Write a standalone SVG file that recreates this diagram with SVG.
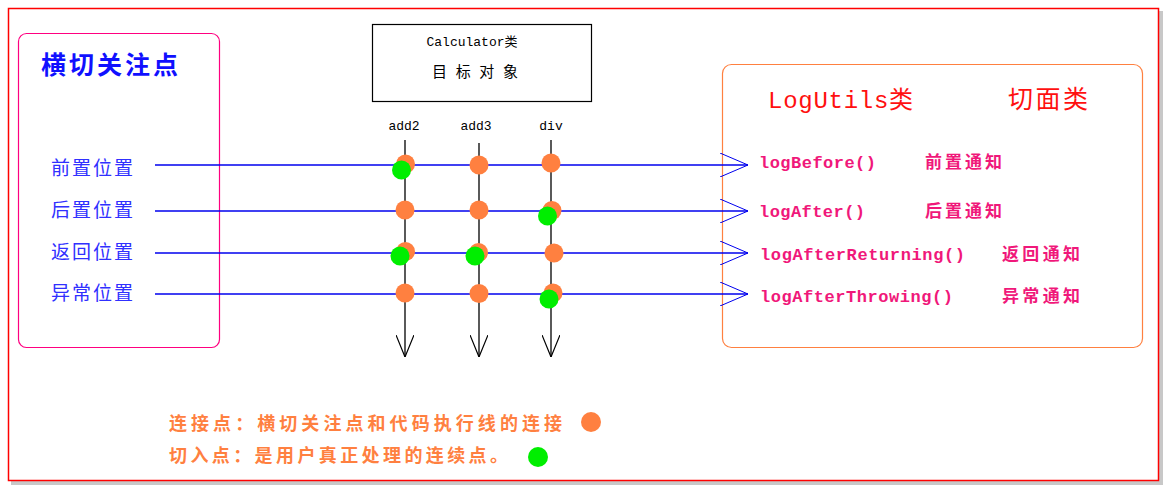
<svg xmlns="http://www.w3.org/2000/svg" width="1169" height="490" viewBox="0 0 1169 490">
<defs>
<style>
.cjk{font-family:"Noto Sans CJK SC","Noto Sans",sans-serif;}
.mono{font-family:"Liberation Mono","Noto Sans CJK SC",monospace;}
.pos{fill:#3030FF;font-size:19px;}
.meth{fill:#F0187A;font-size:17px;font-weight:bold;}
.adv{fill:#F0187A;font-size:17px;font-weight:bold;}
.leg{fill:#FF8040;font-size:18px;font-weight:bold;}
.hl{stroke:#0000EE;stroke-width:1.3;fill:none;}
.vl{stroke:#000;stroke-width:1.3;fill:none;}
.jp{fill:#FF8040;}
.cp{fill:#00EE00;}
</style>
<marker id="harrow" viewBox="0 0 28 24" refX="28" refY="12" markerWidth="28" markerHeight="24" markerUnits="userSpaceOnUse" orient="auto">
<path d="M0,0 L28,12 L0,24" fill="none" stroke="#0000EE" stroke-width="1"/>
</marker>
<marker id="varrow" viewBox="0 0 22 18" refX="22" refY="9" markerWidth="22" markerHeight="18" markerUnits="userSpaceOnUse" orient="auto">
<path d="M0,0 L22,9 L0,18" fill="none" stroke="#000" stroke-width="1.2"/>
</marker>
</defs>
<rect width="1169" height="490" fill="#fff"/>
<g id="frame">
<rect x="11" y="11" width="1152" height="474" fill="#c8c8c8"/>
<rect x="8.5" y="8.5" width="1150" height="472" fill="#fff" stroke="#FF0000" stroke-width="1.5"/>
</g>
<g id="crosscut">
<rect x="18.5" y="33.5" width="201" height="314" rx="8" fill="none" stroke="#FF0080" stroke-width="1.2"/>
<text class="cjk" x="41" y="74" font-size="25" font-weight="bold" fill="#1010FF" textLength="137">横切关注点</text>
<text class="cjk pos" x="51" y="175" textLength="82">前置位置</text>
<text class="cjk pos" x="51" y="217" textLength="82">后置位置</text>
<text class="cjk pos" x="51" y="259" textLength="82">返回位置</text>
<text class="cjk pos" x="51" y="300" textLength="82">异常位置</text>
</g>
<g id="calculator">
<rect x="372.5" y="24.5" width="219" height="77" fill="#fff" stroke="#000" stroke-width="1.2"/>
<text class="mono" x="472" y="46" font-size="13" text-anchor="middle" fill="#000">Calculator类</text>
<text class="cjk" x="475" y="77" font-size="15" text-anchor="middle" fill="#000" textLength="86">目 标 对 象</text>
<text class="mono" x="404" y="130" font-size="13" text-anchor="middle" fill="#000">add2</text>
<text class="mono" x="476" y="130" font-size="13" text-anchor="middle" fill="#000">add3</text>
<text class="mono" x="551" y="130" font-size="13" text-anchor="middle" fill="#000">div</text>
</g>
<g id="aspect">
<rect x="722.5" y="64.5" width="420" height="283" rx="9" fill="none" stroke="#FF8040" stroke-width="1.2"/>
<text class="mono" x="768" y="108" font-size="24" fill="#FF1010" textLength="145">LogUtils类</text>
<text class="cjk" x="1008" y="108" font-size="25" fill="#FF1010" textLength="80">切面类</text>
<text class="mono meth" x="759" y="168" textLength="117">logBefore()</text>
<text class="cjk adv" x="925" y="168" textLength="77">前置通知</text>
<text class="mono meth" x="759" y="217" textLength="106">logAfter()</text>
<text class="cjk adv" x="925" y="217" textLength="77">后置通知</text>
<text class="mono meth" x="760" y="260" textLength="205">logAfterReturning()</text>
<text class="cjk adv" x="1002" y="260" textLength="78">返回通知</text>
<text class="mono meth" x="760" y="302" textLength="193">logAfterThrowing()</text>
<text class="cjk adv" x="1002" y="302" textLength="78">异常通知</text>
</g>
<g id="connectors">
<line class="hl" x1="155" y1="165" x2="748" y2="165" marker-end="url(#harrow)"/>
<line class="hl" x1="155" y1="211" x2="748" y2="211" marker-end="url(#harrow)"/>
<line class="hl" x1="155" y1="253" x2="748" y2="253" marker-end="url(#harrow)"/>
<line class="hl" x1="155" y1="294" x2="748" y2="294" marker-end="url(#harrow)"/>
<line class="vl" x1="405" y1="140" x2="405" y2="357" marker-end="url(#varrow)"/>
<line class="vl" x1="479" y1="143" x2="479" y2="357" marker-end="url(#varrow)"/>
<line class="vl" x1="551" y1="140" x2="551" y2="357" marker-end="url(#varrow)"/>
</g>
<g id="joinpoints">
<circle class="jp" cx="405.5" cy="164" r="9.5"/>
<circle class="jp" cx="479" cy="165" r="9.5"/>
<circle class="jp" cx="551" cy="163" r="9.5"/>
<circle class="jp" cx="405" cy="210" r="9.5"/>
<circle class="jp" cx="479" cy="210" r="9.5"/>
<circle class="jp" cx="552" cy="210.5" r="9.5"/>
<circle class="jp" cx="405.5" cy="251.5" r="9.5"/>
<circle class="jp" cx="478.5" cy="252.5" r="9.5"/>
<circle class="jp" cx="554" cy="253" r="9.5"/>
<circle class="jp" cx="405" cy="293" r="9.5"/>
<circle class="jp" cx="479" cy="293.5" r="9.5"/>
<circle class="jp" cx="553" cy="293" r="9.5"/>
</g>
<g id="pointcuts">
<circle class="cp" cx="401.5" cy="170" r="9.5"/>
<circle class="cp" cx="547.5" cy="216" r="9.5"/>
<circle class="cp" cx="400" cy="256" r="9.5"/>
<circle class="cp" cx="475" cy="256" r="9.5"/>
<circle class="cp" cx="549" cy="299" r="9.5"/>
</g>
<g id="legend">
<text class="cjk leg" x="169" y="430" textLength="393">连接点：横切关注点和代码执行线的连接</text>
<circle class="jp" cx="591" cy="422" r="10"/>
<text class="cjk leg" x="169" y="462" textLength="339">切入点：是用户真正处理的连续点。</text>
<circle class="cp" cx="538" cy="457" r="10"/>
</g>
</svg>
